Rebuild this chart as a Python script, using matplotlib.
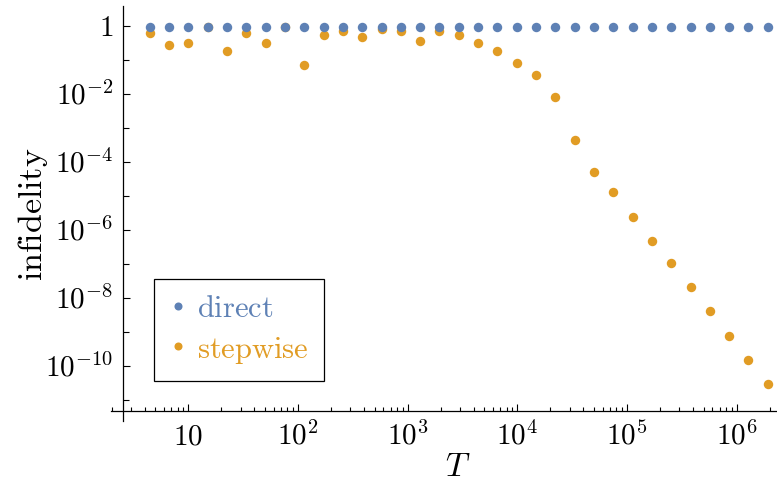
import matplotlib
matplotlib.use('Agg')
import matplotlib.pyplot as plt
import matplotlib.transforms as mtransforms
from matplotlib.ticker import FixedLocator, NullFormatter, FixedFormatter

plt.rcParams['mathtext.fontset'] = 'cm'
plt.rcParams['font.family'] = ['cmr10', 'DejaVu Serif']

# ---- data ----
T = [4.44, 6.67, 10.0, 15.0, 22.5, 33.8, 50.6, 75.9, 114, 171, 256, 384,
     577, 865, 1297, 1946, 2919, 4379, 6568, 9853, 14780, 22170, 33250,
     49880, 74820, 112200, 168300, 252500, 378800, 568200, 852300,
     1278000, 1917000]
direct = [0.96, 0.96, 0.96, 0.96, 0.96, 0.96, 0.96, 0.96, 0.96, 0.96, 0.96,
          0.96, 0.96, 0.96, 0.96, 0.96, 0.96, 0.96, 0.96, 0.96, 0.96, 0.96,
          0.96, 0.96, 0.96, 0.96, 0.96, 0.96, 0.96, 0.96, 0.96, 0.96, 0.96]
stepwise = [0.61, 0.276, 0.32, 0.95, 0.184, 0.64, 0.32, 0.95, 0.071, 0.556,
            0.71, 0.475, 0.80, 0.71, 0.36, 0.71, 0.556, 0.32, 0.184, 0.0816,
            0.036, 0.0079, 4.4e-4, 5.1e-5, 1.28e-5, 2.47e-6, 4.86e-7,
            1.07e-7, 2.06e-8, 4.1e-9, 7.8e-10, 1.54e-10, 2.95e-11]
series_names = ['direct', 'stepwise']
colors = ['#5E81B5', '#E19C24']

x_major = [1e1, 1e2, 1e3, 1e4, 1e5, 1e6]
x_major_labels = [r'$10$', r'$10^{2}$', r'$10^{3}$', r'$10^{4}$', r'$10^{5}$', r'$10^{6}$']
y_major = [1, 1e-2, 1e-4, 1e-6, 1e-8, 1e-10]
y_major_labels = [r'$1$', r'$10^{-2}$', r'$10^{-4}$', r'$10^{-6}$', r'$10^{-8}$', r'$10^{-10}$']
y_minor = [1e-1, 1e-3, 1e-5, 1e-7, 1e-9, 1e-11]

# ---- figure ----
W, H = 777, 481
fig = plt.figure(figsize=(W / 100, H / 100), dpi=100)
ax = fig.add_axes([111 / W, (H - 421.7) / H, 666 / W, 414.7 / H])
ax.set_xscale('log')
ax.set_yscale('log')
ax.set_xlim(10 ** 0.2953, 10 ** 6.3665)
ax.set_ylim(10 ** -11.609, 10 ** 0.588)

ms = 6.8
ax.plot(T, stepwise, 'o', color=colors[1], ms=ms, mec='none', zorder=3)
ax.plot(T, direct, 'o', color=colors[0], ms=ms, mec='none', zorder=4)

for s in ['top', 'right']:
    ax.spines[s].set_visible(False)
ax.spines['left'].set_position(('data', 10 ** 0.4075))
ax.spines['bottom'].set_position(('data', 10 ** -11.315))
for s in ['left', 'bottom']:
    ax.spines[s].set_linewidth(0.9)

ax.xaxis.set_major_locator(FixedLocator(x_major))
ax.xaxis.set_major_formatter(FixedFormatter(x_major_labels))
x_minor = [m * 10 ** e for e in range(0, 7) for m in range(2, 10)]
ax.xaxis.set_minor_locator(FixedLocator(x_minor))
ax.xaxis.set_minor_formatter(NullFormatter())
ax.yaxis.set_major_locator(FixedLocator(y_major))
ax.yaxis.set_major_formatter(FixedFormatter(y_major_labels))
ax.yaxis.set_minor_locator(FixedLocator(y_minor))
ax.yaxis.set_minor_formatter(NullFormatter())

ax.tick_params(which='both', direction='in', top=False, right=False,
               width=0.8, labelsize=21)
ax.tick_params(axis='x', which='major', length=5, pad=23.3)
ax.tick_params(axis='x', which='minor', length=3)
ax.tick_params(axis='y', which='major', length=5, pad=7.4)
ax.tick_params(axis='y', which='minor', length=4.2)

ax.set_xlabel(r'$T$', fontsize=24)
ax.xaxis.set_label_coords((458 - 111) / 666, (421.7 - 453) / 414.7)
ax.set_ylabel(r'$\mathrm{infidelity}$', fontsize=24.5)
ax.yaxis.label.set_va('center')
ax.yaxis.set_label_coords((32.5 - 111) / 666, (421.7 - 214.5) / 414.7)

handles = ax.get_lines()[::-1]
leg = ax.legend(handles, [r'$\mathrm{direct}$', r'$\mathrm{stepwise}$'],
                loc='upper left', bbox_to_anchor=(154 / W, 1 - 280 / H),
                bbox_transform=fig.transFigure, frameon=True, fancybox=False,
                edgecolor='black', framealpha=1, borderpad=0.52,
                labelspacing=0.38, handlelength=0.5, handletextpad=0.38,
                borderaxespad=0, prop={'size': 22}, markerscale=0.85)
leg.get_frame().set_linewidth(0.9)
for txt, c in zip(leg.get_texts(), colors):
    txt.set_color(c)

# baseline alignment of tick labels so digits line up
for lab in ax.get_xticklabels():
    lab.set_va('baseline')
off = mtransforms.ScaledTranslation(0, -6.8 / 72, fig.dpi_scale_trans)
for lab in ax.get_yticklabels():
    lab.set_va('baseline')
    lab.set_transform(lab.get_transform() + off)

fig.savefig('out.png', dpi=100)
